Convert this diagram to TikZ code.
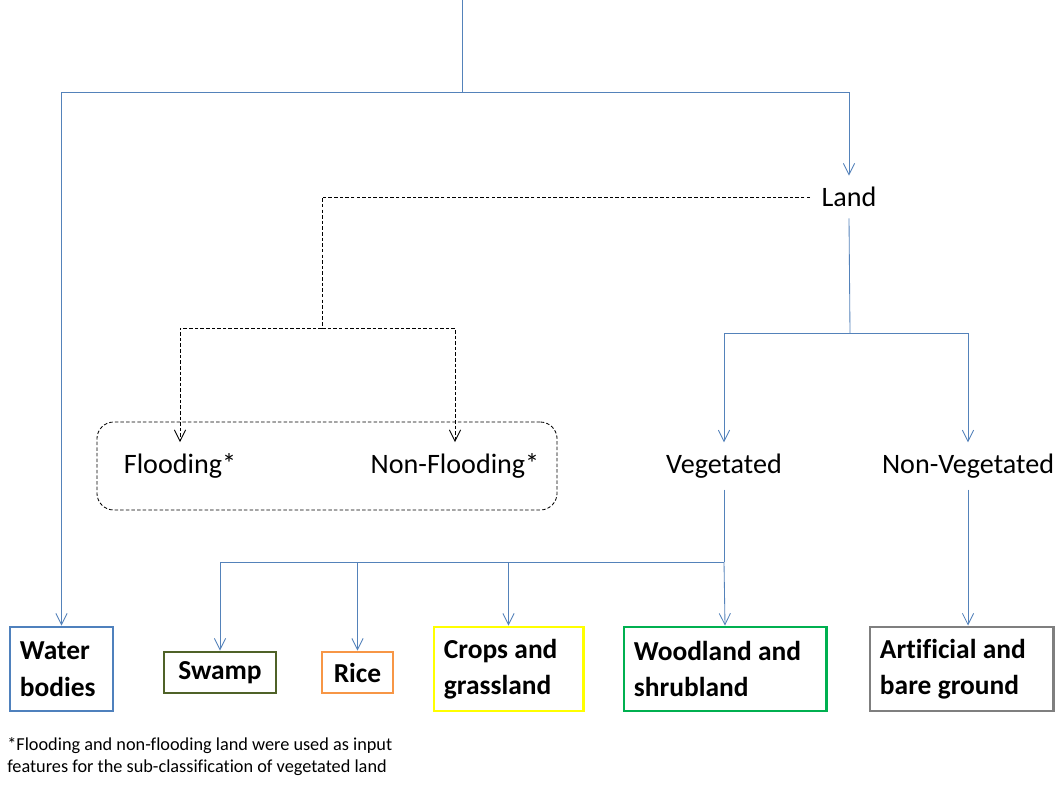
\documentclass[tikz,border=0pt]{standalone}
\usepackage{fontspec}
\setmainfont{Carlito}[Ligatures=NoCommon]
\usetikzlibrary{arrows.meta}
\definecolor{linkblue}{RGB}{84,130,186}
\definecolor{waterblue}{RGB}{79,129,189}
\definecolor{swampgreen}{RGB}{79,98,40}
\definecolor{riceorange}{RGB}{247,150,70}
\definecolor{cropyellow}{RGB}{255,255,0}
\definecolor{woodgreen}{RGB}{0,176,80}
\definecolor{artgray}{RGB}{127,127,127}
\begin{document}
\begin{tikzpicture}[x=0.025cm, y=-0.025cm,
    >={Straight Barb[length=8pt,width=8pt]},
    link/.style={draw=linkblue, line width=0.6pt},
    dashlink/.style={draw=black, line width=0.6pt, dash pattern=on 2.5pt off 1.5pt},
    lbl/.style={inner sep=8pt, font=\fontsize{20}{24}\selectfont},
    cls/.style={draw=#1, line width=2.1pt, inner xsep=0.25cm, inner ysep=0pt,
        align=left, font=\fontsize{19.5}{26}\selectfont\bfseries,
        execute at begin node={\spaceskip=0.23em\relax}}]
\useasboundingbox (0,0) rectangle (1057,794);
% labels
\node[lbl] (land) at (849,197) {Land};
\node[lbl] (flood) at (180,466) {Flooding*};
\node[lbl] (nonflood) at (455,466) {Non-Flooding*};
\node[lbl] (veg) at (724,466) {Vegetated};
\node[lbl] (nonveg) at (968,466) {Non-Vegetated};
\node[dashlink, rounded corners=12pt, minimum width=11.5cm, minimum height=2.2cm] (floodbox) at (327,466) {};
% classes
\node[cls=waterblue, text width=2.075cm, minimum height=2.1cm] (water) at (61.5,669) {Water\\bodies};
\node[cls=swampgreen, text width=2.3cm, align=center, minimum height=1.025cm] (swamp) at (220,672.5) {Swamp};
\node[cls=riceorange, text width=1.275cm, align=center, minimum height=1.025cm] (rice) at (357.5,672.5) {Rice};
\node[cls=cropyellow, text width=3.225cm, minimum height=2.1cm] (crops) at (508.5,669) {Crops and\\grassland};
\node[cls=woodgreen, text width=4.55cm, minimum height=2.1cm] (wood) at (725,669) {Woodland and\\shrubland};
\node[cls=artgray, text width=4.075cm, minimum height=2.1cm] (art) at (961.5,669) {Artificial and\\bare ground};
% note
\node[anchor=north west, align=left, inner sep=0pt, font=\fontsize{13}{16}\selectfont] (note) at (7,737)
    {*Flooding and non-flooding land were used as input\\features for the sub-classification of vegetated land};
% connectors
\coordinate (top) at (462,0);
\coordinate (split) at (462,92);
\draw[link] (top) -- (split);
\draw[link,->] (split) -| (water.north);
\draw[link,->] (split) -| (land.north);
\coordinate (landsplit) at (850,333);
\draw[link] (land.south) -- (landsplit);
\draw[link,->] (landsplit) -| (veg.north);
\draw[link,->] (landsplit) -| (nonveg.north);
\coordinate (floodsplit) at (322,328);
\draw[dashlink] (land.west) -| (floodsplit);
\draw[dashlink,->] (floodsplit) -| (flood.north);
\draw[dashlink,->] (floodsplit) -| (nonflood.north);
\coordinate (vegsplit) at (724,562);
\draw[link] (veg.south) -- (vegsplit);
\draw[link,->] (vegsplit) -| (swamp.north);
\draw[link,->] (vegsplit) -| (rice.north);
\draw[link,->] (vegsplit) -| (crops.north);
\draw[link,->] (vegsplit) -- (wood.north);
\draw[link,->] (nonveg.south) -- (nonveg.south |- art.north);
\end{tikzpicture}
\end{document}
